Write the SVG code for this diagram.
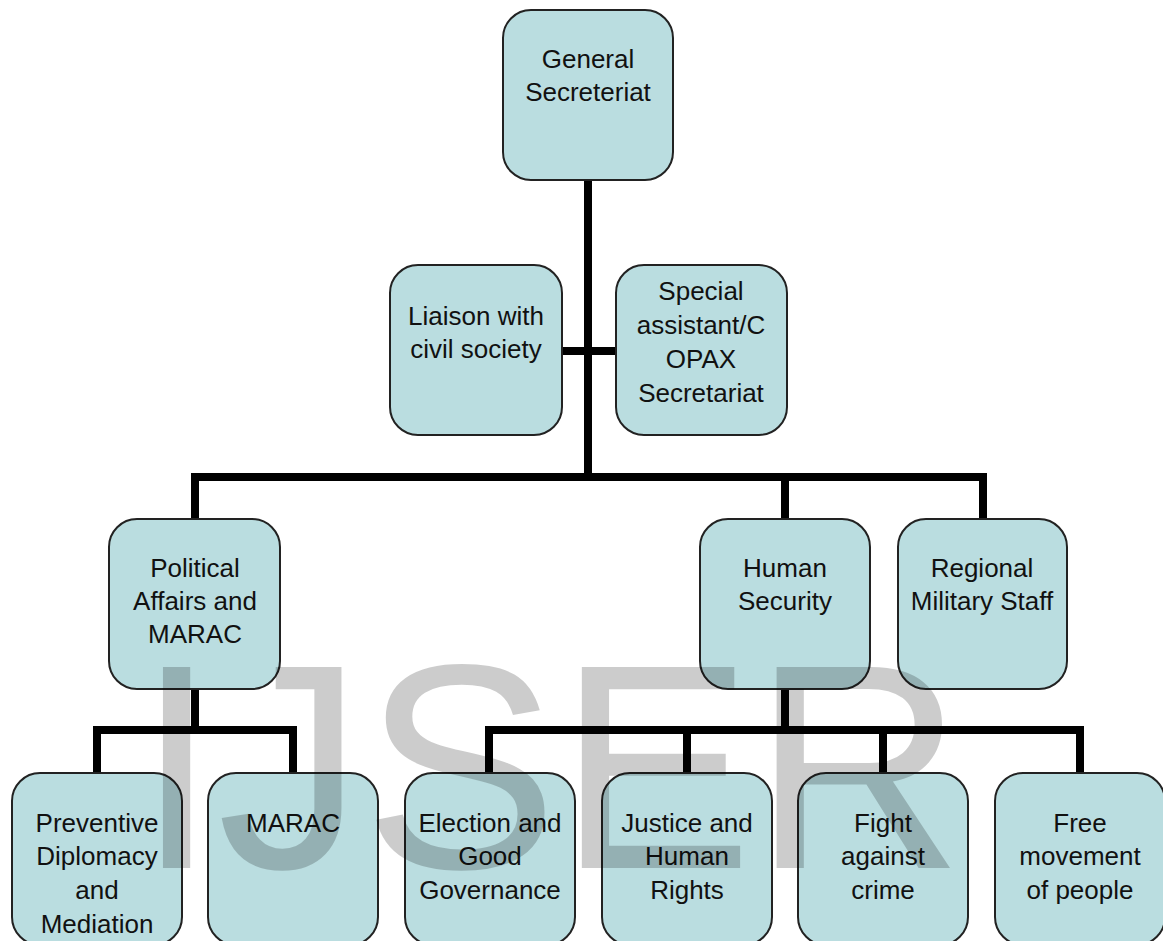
<svg xmlns="http://www.w3.org/2000/svg" width="1163" height="941" viewBox="0 0 1163 941">
<style>
.box{fill:#badde0;stroke:#222;stroke-width:2}
.t{font-family:"Liberation Sans",Arial,sans-serif;font-size:26px;fill:#111;text-anchor:middle}
.c{stroke:#000;stroke-width:8;fill:none;stroke-linecap:square;stroke-linejoin:miter}
.wm{font-family:"Liberation Sans",Arial,sans-serif;font-size:292px;fill:#000;fill-opacity:0.2}
</style>
<rect width="1163" height="941" fill="#fff"/>
<g id="connectors">
<path class="c" d="M588 180 V477"/>
<path class="c" d="M562 351 H616"/>
<path class="c" d="M195 519 V477 H983 V519"/>
<path class="c" d="M785 477 V519"/>
<path class="c" d="M195 689 V730"/>
<path class="c" d="M97 773 V730 H293 V773"/>
<path class="c" d="M785 689 V730"/>
<path class="c" d="M489 773 V730 H1080 V773"/>
<path class="c" d="M687 730 V773"/>
<path class="c" d="M883 730 V773"/>
</g>
<g id="n-general"><rect class="box" x="503" y="10" width="170" height="170" rx="28"/><text class="t" x="588" y="68">General</text><text class="t" x="588" y="101">Secreteriat</text></g>
<g id="n-liaison"><rect class="box" x="390" y="265" width="172" height="170" rx="28"/><text class="t" x="476" y="325">Liaison with</text><text class="t" x="476" y="358">civil society</text></g>
<g id="n-special"><rect class="box" x="616" y="265" width="171" height="170" rx="28"/><text class="t" x="701" y="300">Special</text><text class="t" x="701" y="334">assistant/C</text><text class="t" x="701" y="368">OPAX</text><text class="t" x="701" y="402">Secretariat</text></g>
<g id="n-political"><rect class="box" x="109" y="519" width="171" height="170" rx="28"/><text class="t" x="195" y="577">Political</text><text class="t" x="195" y="610">Affairs and</text><text class="t" x="195" y="643">MARAC</text></g>
<g id="n-human"><rect class="box" x="700" y="519" width="170" height="170" rx="28"/><text class="t" x="785" y="577">Human</text><text class="t" x="785" y="610">Security</text></g>
<g id="n-regional"><rect class="box" x="898" y="519" width="169" height="170" rx="28"/><text class="t" x="982" y="577">Regional</text><text class="t" x="982" y="610">Military Staff</text></g>
<g id="n-preventive"><rect class="box" x="12" y="773" width="170" height="172" rx="28"/><text class="t" x="97" y="832">Preventive</text><text class="t" x="97" y="865">Diplomacy</text><text class="t" x="97" y="899">and</text><text class="t" x="97" y="933">Mediation</text></g>
<g id="n-marac"><rect class="box" x="208" y="773" width="170" height="172" rx="28"/><text class="t" x="293" y="832">MARAC</text></g>
<g id="n-election"><rect class="box" x="405" y="773" width="170" height="172" rx="28"/><text class="t" x="490" y="832">Election and</text><text class="t" x="490" y="865">Good</text><text class="t" x="490" y="899">Governance</text></g>
<g id="n-justice"><rect class="box" x="602" y="773" width="170" height="172" rx="28"/><text class="t" x="687" y="832">Justice and</text><text class="t" x="687" y="865">Human</text><text class="t" x="687" y="899">Rights</text></g>
<g id="n-fight"><rect class="box" x="798" y="773" width="170" height="172" rx="28"/><text class="t" x="883" y="832">Fight</text><text class="t" x="883" y="865">against</text><text class="t" x="883" y="899">crime</text></g>
<g id="n-free"><rect class="box" x="995" y="773" width="170" height="172" rx="28"/><text class="t" x="1080" y="832">Free</text><text class="t" x="1080" y="865">movement</text><text class="t" x="1080" y="899">of people</text></g>
<text class="wm" x="136" y="868">IJSER</text>
</svg>
